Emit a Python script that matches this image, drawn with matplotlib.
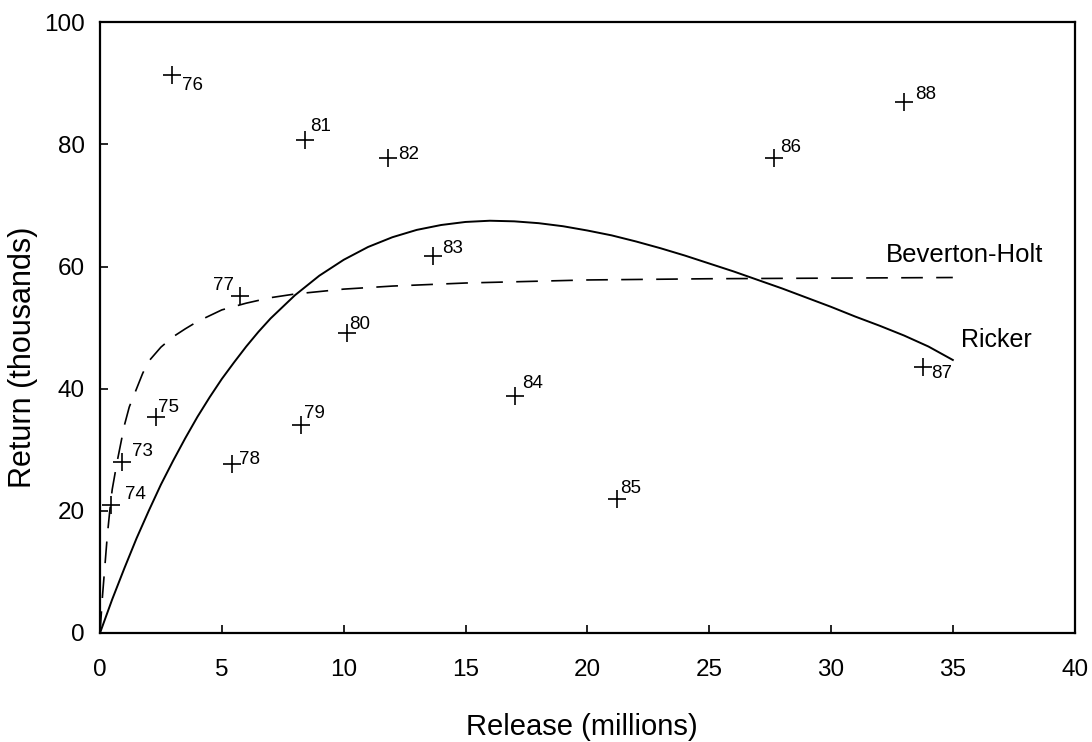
#!/usr/bin/env python3
"""
Stock-recruitment plot: returns vs releases with Ricker and Beverton-Holt fits.
"""
import matplotlib
matplotlib.use("Agg")
import matplotlib.pyplot as plt

# Observed brood years
years = ["73", "74", "75", "76", "77", "78", "79", "80",
         "81", "82", "83", "84", "85", "86", "87", "88"]
release = [0.9, 0.45, 2.3, 2.94, 5.74, 5.42, 8.23, 10.12,
           8.41, 11.83, 13.66, 17.03, 21.2, 27.66, 33.78, 33.0]
returns = [28.0, 20.9, 35.4, 91.4, 55.2, 27.7, 34.0, 49.05,
           80.7, 77.7, 61.7, 38.8, 21.9, 77.7, 43.6, 86.9]

# Fitted curves
ricker_x = [0, 0.5, 1, 1.5, 2, 2.5, 3, 3.5, 4, 4.5, 5, 5.5, 6, 6.5, 7,
            7.5, 8, 9, 10, 11, 12, 13, 14, 15, 16, 17, 18, 19, 20, 21,
            22, 23, 24, 25, 26, 27, 28, 29, 30, 31, 32, 33, 34, 35]
ricker_y = [0, 5.5, 10.6, 15.5, 20.0, 24.3, 28.2, 31.9, 35.4, 38.6, 41.6,
            44.3, 46.9, 49.3, 51.5, 53.4, 55.3, 58.5, 61.1, 63.2, 64.8,
            66.0, 66.8, 67.3, 67.5, 67.4, 67.1, 66.6, 65.9, 65.1, 64.1,
            63.0, 61.8, 60.5, 59.2, 57.8, 56.4, 54.9, 53.4, 51.8, 50.3,
            48.7, 46.9, 44.7]

bh_x = [0, 0.05, 0.1, 0.2, 0.3, 0.4, 0.5, 0.7, 0.85, 1.0, 1.2, 1.5, 1.75,
        2, 2.5, 3, 3.5, 4, 5, 6, 7, 8, 10, 12, 15, 20, 25, 30, 35]
bh_y = [0, 3, 6, 11, 16, 20, 23.5, 28, 31, 34, 37, 40, 42.5, 44.5, 46.8,
        48.5, 49.8, 51.0, 52.9, 54.0, 54.9, 55.5, 56.3, 56.8, 57.3, 57.8,
        58.0, 58.1, 58.2]

# label offsets (points, to the text baseline) for each year label
label_offsets = {
    "73": (7, 4.3), "74": (10, 4.3), "75": (1.5, 3.6), "76": (7.2, -10.8),
    "77": (-19.2, 4.3), "78": (5, 0), "79": (2.4, 5), "80": (1.7, 3.1),
    "81": (3.6, 6.5), "82": (7, -0.5), "83": (6.5, 2.4), "84": (5, 5.5),
    "85": (2.4, 4.8), "86": (4.6, 4.8), "87": (6, -8.4), "88": (8, 2),
}


def main():
    plt.rcParams["font.family"] = ["Liberation Sans", "DejaVu Sans"]

    fig = plt.figure(figsize=(10.92, 7.42), dpi=100)
    ax = fig.add_axes([0.0916, 0.147, 0.8925, 0.823])

    ax.plot(ricker_x, ricker_y, color="black", linewidth=1.4)
    ax.plot(bh_x, bh_y, color="black", linewidth=1.2,
            linestyle=(0, (13, 8)))

    ax.plot(release, returns, linestyle="none", marker="+",
            markersize=13, markeredgewidth=1.2, color="black")

    for yr, x, y in zip(years, release, returns):
        dx, dy = label_offsets[yr]
        ax.annotate(yr, (x, y), xytext=(dx, dy), textcoords="offset points",
                    fontsize=13.5, ha="left", va="baseline")

    ax.text(35.5, 61.9, "Beverton-Holt", fontsize=18.5, ha="center", va="center")
    ax.text(36.8, 48, "Ricker", fontsize=18, ha="center", va="center")

    ax.set_xlim(0, 40)
    ax.set_ylim(0, 100)
    ax.set_xticks(range(0, 41, 5))
    ax.set_yticks(range(0, 101, 20))
    ax.tick_params(direction="in", length=6, width=1.2, labelsize=17.5)
    ax.tick_params(axis="x", pad=19)
    ax.tick_params(axis="y", pad=11)

    for spine in ax.spines.values():
        spine.set_linewidth(1.6)

    ax.set_xlabel("Release (millions)", fontsize=21)
    ax.set_ylabel("Return (thousands)", fontsize=22)
    ax.xaxis.set_label_coords(0.494, -0.131)
    ax.yaxis.set_label_coords(-0.0636, 0.452)

    fig.savefig("out.png", dpi=100)
    return 0


if __name__ == "__main__":
    exit(main())
